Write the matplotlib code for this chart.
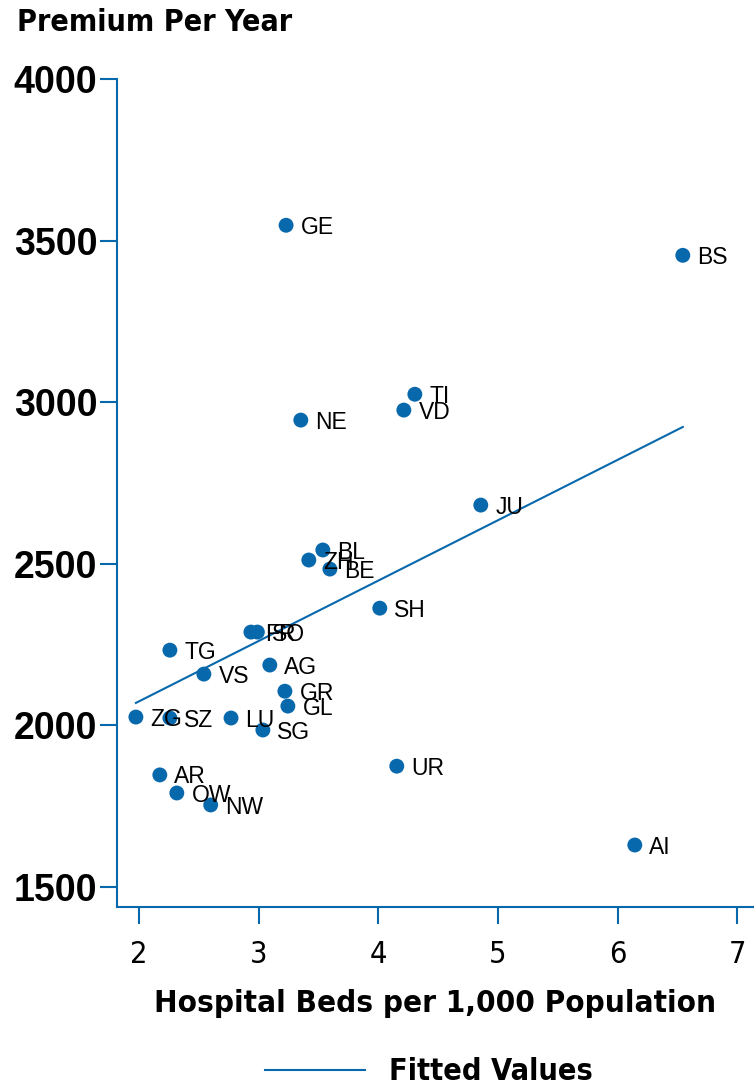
import numpy as np
import matplotlib
matplotlib.use("Agg")
import matplotlib.pyplot as plt
from matplotlib.lines import Line2D
from matplotlib import font_manager as fm

cantons = ["GE", "BS", "TI", "VD", "NE", "JU", "BL", "ZH", "BE", "SH", "FR", "SO", "TG",
           "AG", "VS", "GR", "GL", "ZG", "SZ", "LU", "SG", "UR", "AR", "OW", "NW", "AI"]
beds = [3.23, 6.545, 4.306, 4.214, 3.353, 4.857, 3.537, 3.42, 3.596, 4.013, 2.936, 2.99, 2.259,
        3.094, 2.543, 3.22, 3.245, 1.975, 2.259, 2.77, 3.036, 4.155, 2.175, 2.317, 2.60, 6.144]
premium = [3548, 3455, 3025, 2976, 2945, 2682, 2543, 2512, 2484, 2363, 2289, 2289, 2233,
           2187, 2159, 2106, 2060, 2026, 2023, 2023, 1986, 1874, 1847, 1791, 1754, 1630]
y_ticks = [1500, 2000, 2500, 3000, 3500, 4000]
x_ticks = [2, 3, 4, 5, 6, 7]

BLUE = "#0868ac"


def find_condensed(bold):
    best = None
    for f in fm.fontManager.ttflist:
        nm = (f.name + " " + f.fname).lower()
        cond = ("condensed" in nm or "narrow" in nm or str(f.stretch).lower() in
                ("condensed", "semi-condensed", "extra-condensed"))
        if not cond or "oblique" in nm or "italic" in nm or f.style != "normal":
            continue
        w = f.weight if isinstance(f.weight, int) else (700 if "bold" in str(f.weight) else 400)
        isbold = w >= 600 or "bold" in f.fname.lower()
        if isbold == bold:
            best = f.fname
            if "sans" in nm:
                break
    return best


bold_file = find_condensed(True)
reg_file = find_condensed(False)
if bold_file:
    BOLDP = fm.FontProperties(fname=bold_file)
    bscale = 1.0
else:
    BOLDP = fm.FontProperties(family="Lato", weight="bold")
    bscale = 1.1
if reg_file:
    REGC = fm.FontProperties(fname=reg_file)
else:
    REGC = fm.FontProperties(family="Lato")


def bold_at(size):
    p = BOLDP.copy()
    p.set_size(size * bscale)
    return p


fig = plt.figure(figsize=(7.54, 10.85), dpi=100)
ax = fig.add_axes([0.155, 0.164, 0.845, 0.763])

x = np.array(beds)
y = np.array(premium)
coef = np.polyfit(x, y, 1)
xf = np.array([x.min(), x.max()])
yf = np.polyval(coef, xf)

ax.scatter(x, y, s=115, color=BLUE, edgecolors="none", zorder=2)
ax.plot(xf, yf, color=BLUE, lw=1.5, zorder=3)
for name, xi, yi in zip(cantons, beds, premium):
    ax.annotate(name, (xi, yi), xytext=(10.5, -1.5), textcoords="offset points",
                ha="left", va="center", fontsize=16.5,
                family=["Liberation Sans", "DejaVu Sans"], color="black", zorder=4)

ax.set_xlim(1.816, 7.14)
ax.set_ylim(1438, 4000)
ax.set_xticks(x_ticks)
ax.set_yticks(y_ticks)
for s in ["top", "right"]:
    ax.spines[s].set_visible(False)
for s in ["left", "bottom"]:
    ax.spines[s].set_color(BLUE)
    ax.spines[s].set_linewidth(1.5)
ax.tick_params(axis="both", direction="out", length=12, width=1.5, color=BLUE)
ax.tick_params(axis="y", pad=2)
ax.tick_params(axis="x", pad=12)
for lab in ax.get_yticklabels():
    lab.set_fontfamily(["Liberation Sans", "DejaVu Sans"])
    lab.set_fontweight("bold")
    lab.set_fontsize(27)
for lab in ax.get_xticklabels():
    lab.set_fontproperties(REGC)
    lab.set_fontsize(22)

ax.set_xlabel("Hospital Beds per 1,000 Population", labelpad=14,
              fontproperties=bold_at(22.5))
fig.text(0.022, 0.979, "Premium Per Year", ha="left", va="center",
         fontproperties=bold_at(21.8))

handle = Line2D([], [], color=BLUE, lw=1.5)
fig.legend([handle], ["Fitted Values"], loc="center left", bbox_to_anchor=(0.351, 0.012),
           frameon=False, handlelength=3.3, handletextpad=0.78, borderpad=0,
           borderaxespad=0, prop=bold_at(22))

fig.savefig("out.png", dpi=100)
